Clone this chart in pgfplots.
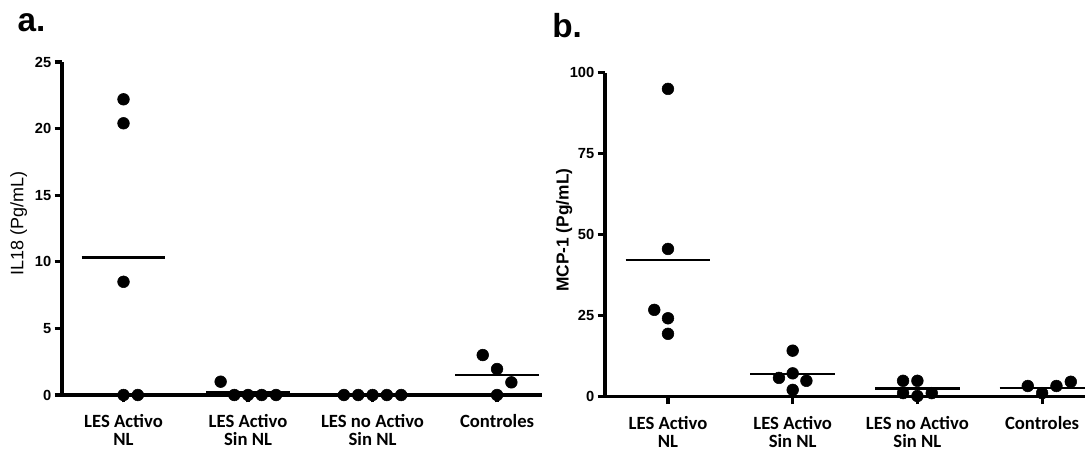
\documentclass[border=0pt]{standalone}
\usepackage{fontspec}
\setmainfont{Liberation Sans}
\newfontfamily\cat{Carlito}
\usepackage{pgfplots}
\pgfplotsset{compat=1.18}

% panel a: IL18, panel b: MCP-1 (x offset = jitter within group)
\pgfplotstableread{
x y
1.000 22.2
1.000 20.4
1.000 8.5
1.000 0
1.115 0
1.780 1.0
1.890 0
2.000 0
2.110 0
2.225 0
2.770 0
2.885 0
3.000 0
3.115 0
3.230 0
3.885 3.0
4.000 1.95
4.115 0.95
4.000 0
}\ildata
\pgfplotstableread{
x y
1.000 95.0
1.000 45.6
0.890 26.8
1.000 24.2
1.000 19.4
2.000 14.2
1.890 5.8
2.000 7.2
2.110 4.9
2.000 2.1
2.885 4.9
3.000 4.9
2.885 1.1
3.115 1.1
3.000 0.2
3.885 3.3
4.000 1.1
4.115 3.3
4.230 4.6
}\mcpdata

\pgfplotsset{
  dotplot/.style={
    scale only axis, width=360pt, clip=false,
    axis x line=bottom, axis y line=left,
    axis line style={-, line width=2.6pt},
    every tick/.style={black, line width=2.4pt},
    tick align=outside, major tick length=5.5pt,
    xtick={1,2,3,4},
    xticklabels={{LES Activo\\NL},{LES Activo\\Sin NL},{LES no Activo\\Sin NL},{Controles}},
    xticklabel style={align=center, yshift=-5.5pt,
      font=\cat\bfseries\fontsize{14}{13.5}\selectfont},
    yticklabel style={font=\bfseries\fontsize{11}{12}\selectfont, xshift=1pt},
    /pgf/number format/assume math mode=true,
    ymin=0,
  },
  meanline/.style={black, line width=2.1pt, no marks, forget plot},
}

\begin{document}
\begin{tikzpicture}
\node[anchor=base west, font=\bfseries\fontsize{25}{28}\selectfont, inner sep=0pt]
  at (13pt,-23.5pt) {a.};
\node[anchor=base west, font=\bfseries\fontsize{25}{28}\selectfont, inner sep=0pt]
  at (414pt,-28pt) {b.};

\begin{axis}[dotplot, at={(46.5pt,-296.25pt)}, anchor=south west,
    height=249.75pt, xmin=0.506, xmax=4.361, ymax=25,
    ytick={0,5,10,15,20,25},
    ylabel={IL18 (Pg/mL)},
    ylabel style={at={(axis description cs:-0.09,0.516)}, anchor=center,
      font=\fontsize{13.5}{15}\selectfont}]
  \addplot[meanline] coordinates {(0.663,10.3) (1.337,10.3)};
  \addplot[meanline] coordinates {(1.663,0.2) (2.337,0.2)};
  \addplot[meanline] coordinates {(3.663,1.5) (4.337,1.5)};
  \addplot[only marks, mark=*, mark size=4.4pt, black] table[x=x,y=y] {\ildata};
\end{axis}

\begin{axis}[dotplot, at={(453.75pt,-297.5pt)}, anchor=south west,
    height=243pt, xmin=0.495, xmax=4.344, ymax=100,
    ytick={0,25,50,75,100},
    ylabel={MCP-1 (Pg/mL)},
    ylabel style={at={(axis description cs:-0.085,0.514)}, anchor=center,
      font=\bfseries\fontsize{13}{15}\selectfont}]
  \addplot[meanline] coordinates {(0.66,42.2) (1.34,42.2)};
  \addplot[meanline] coordinates {(1.66,7.0) (2.34,7.0)};
  \addplot[meanline] coordinates {(2.66,2.6) (3.34,2.6)};
  \addplot[meanline] coordinates {(3.66,2.7) (4.34,2.7)};
  \addplot[only marks, mark=*, mark size=4.4pt, black] table[x=x,y=y] {\mcpdata};
\end{axis}

\pgfresetboundingbox
\path (0,0) rectangle (813.75pt,-338.25pt);
\end{tikzpicture}
\end{document}
